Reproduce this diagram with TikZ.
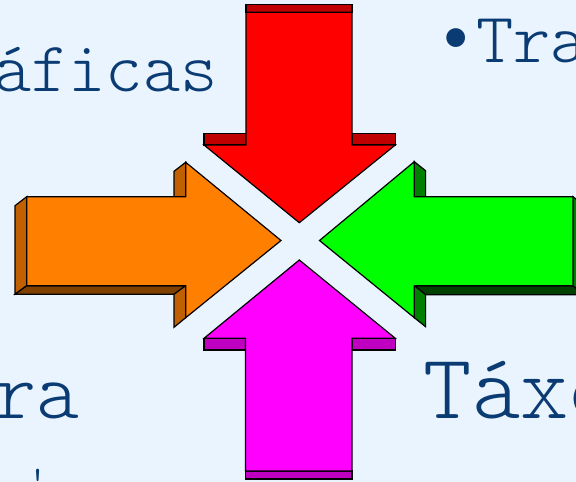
\documentclass[tikz,border=0pt]{standalone}
\usepackage{fontspec}
\newfontfamily\slidefont{Latin Modern Mono Light}
\definecolor{bg}{RGB}{234,244,255}
\definecolor{txt}{RGB}{10,60,115}
\definecolor{redF}{RGB}{255,0,0}
\definecolor{redS}{RGB}{192,0,0}
\definecolor{magF}{RGB}{255,0,255}
\definecolor{magS}{RGB}{192,0,192}
\definecolor{orF}{RGB}{255,128,0}
\definecolor{orS}{RGB}{192,96,0}
\definecolor{orB}{RGB}{128,64,0}
\definecolor{grF}{RGB}{0,255,0}
\definecolor{grS}{RGB}{0,128,0}
\definecolor{grB}{RGB}{0,64,0}
\begin{document}
\begin{tikzpicture}[x=1pt,y=-1pt,
  face/.style={draw=black,line width=1.2pt,line join=miter},
  slidetext/.style={text=txt,inner sep=0pt,font=\slidefont\fontsize{#1}{#1}\selectfont},
  slidetext/.default=71]
\useasboundingbox (0,0) rectangle (576,482);
\fill[bg] (0,0) rectangle (576,482);
\clip (0,0) rectangle (576,482);
% texts
\node[slidetext, anchor=base east] (t1) at (218,91) {áficas};
\node[slidetext, anchor=center] (b1) at (456.3,41.7) {•};
\node[slidetext, anchor=base west] (t2) at (476,62.3) {Tra};
\node[slidetext=82, anchor=base east] (t3) at (80,418) {ra};
\node[slidetext=44, anchor=north] (t4) at (38,469) {'};
\node[slidetext=92, anchor=base west] (t5) at (423.5,418) {Táxo};
% red arrow (down)
\path[face,fill=redS] (246,4.3) rectangle (352,12.3);
\path[face,fill=redS] (204,133.3) rectangle (246,145);
\path[face,fill=redS] (352,133.3) rectangle (395.3,145);
\path[face,fill=redF] (246,12.3) -- (352,12.3) -- (352,145) -- (395.3,145) -- (299.3,222.7) -- (204,145) -- (246,145) -- cycle;
% magenta arrow (up)
\path[face,fill=magS] (245.5,471) rectangle (352,479);
\path[face,fill=magS] (204,338.3) rectangle (245.5,350);
\path[face,fill=magS] (352,338.3) rectangle (395.3,350);
\path[face,fill=magF] (245.5,471) -- (352,471) -- (352,338.3) -- (395.3,338.3) -- (299.3,260) -- (204,338.3) -- (245.5,338.3) -- cycle;
% orange arrow (right)
\path[face,fill=orS] (26.7,196.7) -- (15,205.7) -- (15,294.3) -- (26.7,285.7) -- cycle;
\path[face,fill=orB] (15,294.3) -- (26.7,285.7) -- (185.7,285.7) -- (174,294.3) -- cycle;
\path[face,fill=orS] (185.7,162.3) -- (174,171.3) -- (174,205.7) -- (185.7,196.7) -- cycle;
\path[face,fill=orS] (185.7,285.7) -- (185.7,317.7) -- (174,327.3) -- (174,294.3) -- cycle;
\path[face,fill=orF] (26.7,196.7) -- (185.7,196.7) -- (185.7,162.3) -- (281,240.5) -- (185.7,317.7) -- (185.7,285.7) -- (26.7,285.7) -- cycle;
% green arrow (left)
\path[face,fill=grS] (414.3,161.7) -- (425.6,170.7) -- (425.6,205.7) -- (414.3,196.7) -- cycle;
\path[face,fill=grB] (414.3,285.7) -- (573,285.7) -- (584.3,294.7) -- (425.6,294.7) -- cycle;
\path[face,fill=grS] (414.3,285.7) -- (425.6,294.7) -- (425.6,326.7) -- (414.3,317.7) -- cycle;
\path[face,fill=grS] (573,196.7) -- (584.3,205.7) -- (584.3,294.7) -- (573,285.7) -- cycle;
\path[face,fill=grF] (319.5,240.5) -- (414.3,161.7) -- (414.3,196.7) -- (573,196.7) -- (573,285.7) -- (414.3,285.7) -- (414.3,317.7) -- cycle;
\end{tikzpicture}
\end{document}
